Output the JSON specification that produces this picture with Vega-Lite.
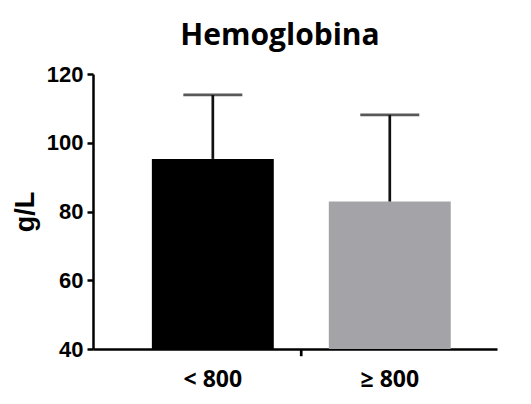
{
  "$schema": "https://vega.github.io/schema/vega-lite/v6.json",
  "width": 404,
  "height": 275,
  "autosize": {"type": "none"},
  "padding": {"left": 93, "top": 74, "right": 34, "bottom": 55},
  "background": "white",
  "title": {
    "text": "Hemoglobina",
    "font": "Open Sans",
    "fontSize": 30,
    "fontWeight": "bold",
    "color": "#000000",
    "anchor": "middle",
    "dx": -15,
    "offset": 12
  },
  "config": {
    "view": {"stroke": null}
  },
  "data": {
    "values": [
      {"group": "< 800", "mean": 95.3, "upper": 113.9},
      {"group": "≥ 800", "mean": 82.9, "upper": 108.1}
    ]
  },
  "encoding": {
    "x": {
      "field": "group",
      "type": "nominal",
      "sort": null,
      "scale": {"paddingInner": 0.311, "paddingOuter": 0.297, "align": 0.56},
      "axis": {
        "title": null,
        "labelAngle": 0,
        "ticks": false,
        "tickSize": 0,
        "labelPadding": 19,
        "labelFont": "Open Sans",
        "labelFontSize": 23,
        "labelFontWeight": "bold",
        "labelColor": "#000000",
        "domainColor": "#000000",
        "domainWidth": 2.5
      }
    }
  },
  "layer": [
    {
      "mark": {"type": "bar"},
      "encoding": {
        "y": {
          "field": "mean",
          "type": "quantitative",
          "scale": {"domain": [40, 120], "zero": false, "nice": false},
          "axis": {
            "title": "g/L",
            "titleFont": "Liberation Sans",
            "titleFontSize": 27,
            "titleFontWeight": "bold",
            "titleColor": "#000000",
            "titlePadding": 7,
            "values": [40, 60, 80, 100, 120],
            "grid": false,
            "labelFont": "Liberation Sans",
            "labelFontSize": 22,
            "labelFontWeight": "bold",
            "labelColor": "#000000",
            "labelPadding": 4,
            "tickSize": 6,
            "tickWidth": 2.5,
            "tickColor": "#000000",
            "domainColor": "#000000",
            "domainWidth": 2.5
          }
        },
        "y2": {"datum": 40},
        "color": {
          "field": "group",
          "type": "nominal",
          "sort": null,
          "scale": {"range": ["#000000", "#a4a3a8"]},
          "legend": null
        }
      }
    },
    {
      "mark": {"type": "rule", "color": "#111111", "strokeWidth": 2.7},
      "encoding": {
        "y": {"field": "mean", "type": "quantitative"},
        "y2": {"field": "upper"}
      }
    },
    {
      "mark": {"type": "tick", "color": "#111111", "thickness": 2.7, "size": 59, "orient": "horizontal"},
      "encoding": {
        "y": {"field": "upper", "type": "quantitative"}
      }
    },
    {
      "data": {"values": [{"group": "< 800"}]},
      "mark": {"type": "rule", "color": "#000000", "strokeWidth": 2.7},
      "encoding": {
        "x": {"field": "group", "type": "nominal", "bandPosition": 1.225},
        "y": {"datum": 40},
        "y2": {"datum": 37.9}
      }
    }
  ]
}
